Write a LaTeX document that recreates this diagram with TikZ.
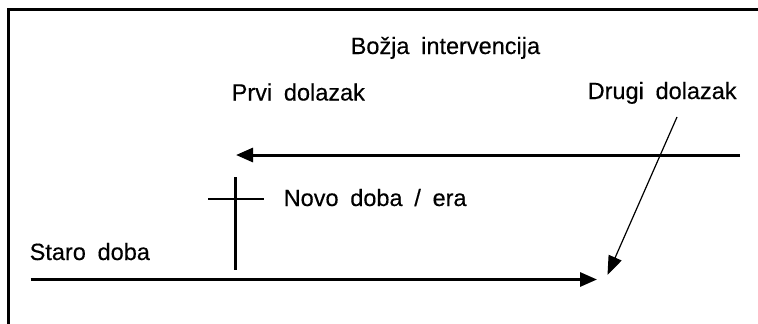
\documentclass[tikz,border=0pt]{standalone}
\usepackage{fontspec}
\setmainfont{Liberation Sans}[WordSpace=1.8,FakeBold=0.35]
\usetikzlibrary{arrows.meta}
\begin{document}
\begin{tikzpicture}[x=1pt,y=-1pt,
  lbl/.style={anchor=base west,inner sep=0pt,font=\fontsize{23.5}{28}\selectfont},
  thick line/.style={line width=3pt},
  big arrow/.style={-{Triangle[length=17pt,width=14pt]}},
  frame line/.style={line width=3pt}]
\useasboundingbox (0,0) rectangle (758,324);
% frame
\coordinate (fbl) at (8,324);
\coordinate (ftl) at (8,9);
\coordinate (ftr) at (758,9);
\draw[frame line] (fbl) -- (ftl) -- (ftr);
% labels
\node[lbl] (title) at (350.5,54) {Božja intervencija};
\node[lbl] (prvi) at (231.5,100.5) {Prvi dolazak};
\node[lbl] (drugi) at (587.5,99) {Drugi dolazak};
\node[lbl] (novo) at (283.5,206) {Novo doba / era};
\node[lbl] (staro) at (29.5,260) {Staro doba};
% top arrow
\coordinate (ta) at (740,155);
\coordinate (tb) at (236,155);
\draw[thick line,big arrow] (ta) -- (tb);
% cross
\coordinate (cv1) at (235.7,177);
\coordinate (cv2) at (235.7,270);
\coordinate (ch1) at (208,199);
\coordinate (ch2) at (264,199);
\draw[line width=2.5pt] (cv1) -- (cv2);
\draw[line width=2.5pt] (ch1) -- (ch2);
% bottom arrow
\coordinate (ba) at (30.5,279.5);
\coordinate (bb) at (597,279.5);
\draw[thick line,big arrow] (ba) -- (bb);
% diagonal arrow
\coordinate (da) at (677,117);
\coordinate (db) at (607.5,275);
\draw[line width=1.2pt,-{Triangle[length=19pt,width=14pt]}] (da) -- (db);
\end{tikzpicture}
\end{document}
